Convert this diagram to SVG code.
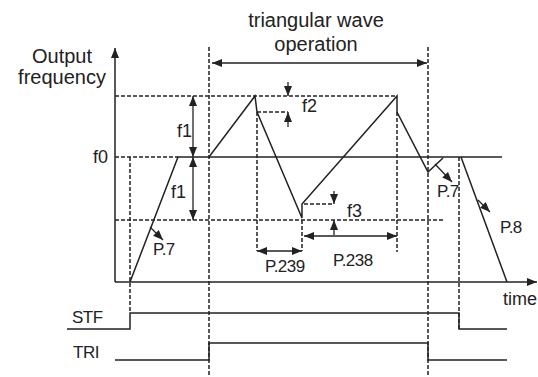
<svg xmlns="http://www.w3.org/2000/svg" width="538" height="377" viewBox="0 0 538 377">
<style>
.s{fill:none;stroke:#222;stroke-width:1.5}
.t{fill:none;stroke:#222;stroke-width:1.2}
.d{fill:none;stroke:#222;stroke-width:1.5;stroke-dasharray:4 2}
.a{fill:none;stroke:#222;stroke-width:1.3;marker-end:url(#ah)}
.aa{fill:none;stroke:#222;stroke-width:1.3;marker-end:url(#ah);marker-start:url(#ah)}
text{font-family:"Liberation Sans",Arial,sans-serif;fill:#222}
.big{font-size:20px}
.m{font-size:18px}
.p{font-size:17px;letter-spacing:-0.5px}
</style>
<defs>
<marker id="ah" viewBox="0 0 10 8" refX="10" refY="4" markerWidth="10" markerHeight="8" markerUnits="userSpaceOnUse" orient="auto-start-reverse">
<path d="M0,0 L10,4 L0,8 z" fill="#222"/>
</marker>
</defs>
<rect width="538" height="377" fill="#fff"/>
<g id="guides">
<line class="d" x1="209" y1="47" x2="209" y2="377"/>
<line class="d" x1="428" y1="47" x2="428" y2="377"/>
<line class="d" x1="130" y1="157" x2="130" y2="313"/>
<line class="d" x1="459" y1="157" x2="459" y2="329"/>
<line class="d" x1="257" y1="112" x2="257" y2="251"/>
<line class="d" x1="302" y1="220" x2="302" y2="251"/>
<line class="d" x1="397" y1="112" x2="397" y2="252"/>
<line class="d" x1="115" y1="96" x2="397" y2="96"/>
<line class="d" x1="115" y1="220" x2="445" y2="220"/>
<line class="d" x1="115" y1="157" x2="178" y2="157"/>
<line class="d" x1="257" y1="112" x2="288" y2="112"/>
<line class="d" x1="304" y1="204" x2="334" y2="204"/>
</g>
<g id="axes">
<line class="s" x1="115" y1="282" x2="115" y2="48" style="marker-end:url(#ah)"/>
<line class="s" x1="115" y1="282" x2="537" y2="282" style="marker-end:url(#ah)"/>
<line class="s" x1="209" y1="157" x2="502" y2="157"/>
</g>
<g id="wave">
<polyline class="s" points="130,282 178,157 209,157 255,96 257,112 302,218 302,204 397,96 397,112 428,172 443,158"/>
<polyline class="s" points="461,157 507,282"/>
</g>
<g id="signals">
<polyline class="s" points="67,329 130,329 130,313 459,313 459,329 507,329"/>
<polyline class="s" points="115,360 209,360 209,343 428,343 428,360 507,360"/>
</g>
<g id="connectors">
<line class="aa" x1="212" y1="63" x2="427" y2="63"/>
<line class="aa" x1="193" y1="96" x2="193" y2="157"/>
<line class="aa" x1="193" y1="157" x2="193" y2="220"/>
<line class="a" x1="288" y1="82" x2="288" y2="96"/>
<line class="a" x1="288" y1="127" x2="288" y2="112"/>
<line class="a" x1="334" y1="191" x2="334" y2="204"/>
<line class="a" x1="334" y1="235" x2="334" y2="220"/>
<line class="aa" x1="304" y1="236" x2="397" y2="236"/>
<line class="aa" x1="257" y1="251" x2="302" y2="251"/>
<line class="a" x1="150" y1="227" x2="163" y2="240"/>
<line class="a" x1="435" y1="164" x2="452" y2="182"/>
<line class="a" x1="478" y1="200" x2="490" y2="212"/>
</g>
<g id="labels">
<text class="big" x="316" y="27" text-anchor="middle">triangular wave</text>
<text class="big" x="316" y="51" text-anchor="middle">operation</text>
<text class="big" x="62" y="63" text-anchor="middle">Output</text>
<text class="big" x="62" y="84" text-anchor="middle">frequency</text>
<text class="m" x="93" y="163">f0</text>
<text class="m" x="177" y="137">f1</text>
<text class="m" x="171" y="198">f1</text>
<text class="m" x="302" y="112">f2</text>
<text class="m" x="347" y="217">f3</text>
<text class="p" x="153" y="255">P.7</text>
<text class="p" x="437" y="197">P.7</text>
<text class="p" x="500" y="233">P.8</text>
<text class="p" x="265" y="272">P.239</text>
<text class="p" x="333" y="266">P.238</text>
<text class="m" x="503" y="305">time</text>
<text class="p" x="72" y="323">STF</text>
<text class="p" x="73" y="358">TRI</text>
</g>
</svg>
